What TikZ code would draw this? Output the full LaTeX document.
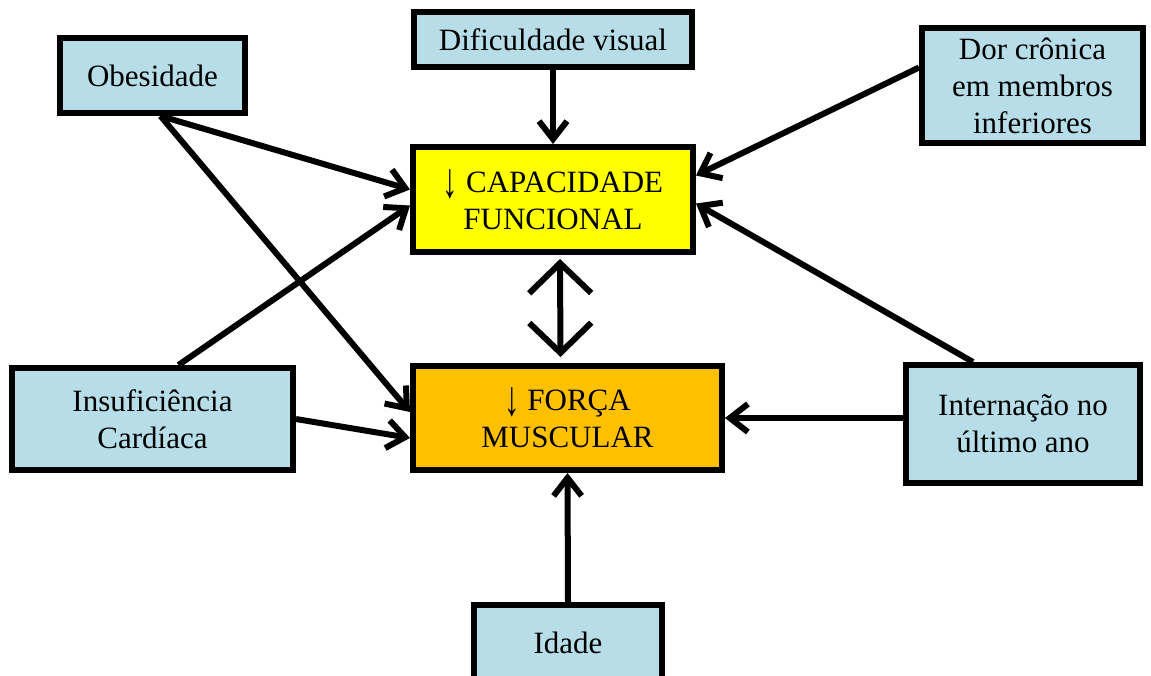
\documentclass[tikz,border=0pt]{standalone}
\usepackage{fontspec}
\setmainfont{Liberation Serif}
\usetikzlibrary{arrows.meta}
\definecolor{fatorazul}{RGB}{183,222,232}
\definecolor{capamarelo}{RGB}{255,255,0}
\definecolor{forcalaranja}{RGB}{255,192,0}
\newcommand{\setabaixo}{\raisebox{-0.35ex}{\scalebox{1}[1.6]{↓}}}
\begin{document}
\begin{tikzpicture}[x=0.5pt,y=-0.5pt,
  caixa/.style={draw=black,line width=3pt,align=center,inner sep=0pt,
    font=\fontsize{15.5}{18.5}\selectfont},
  fator/.style={caixa,fill=fatorazul},
  seta/.style={line width=3pt,-{Straight Barb[length=9pt,width=14pt,line width=3pt]}},
  setadupla/.style={line width=3pt,{Straight Barb[length=15pt,width=31pt,line width=3pt]}-{Straight Barb[length=15pt,width=31pt,line width=3pt]}}]
\useasboundingbox (0,0) rectangle (1151,675);
\clip (0,0) rectangle (1151,675);
% caixas centrais
\node[caixa,fill=capamarelo,minimum width=140pt,minimum height=52.5pt] (cap) at (553,199.5) {\setabaixo\ CAPACIDADE\\FUNCIONAL};
\node[caixa,fill=forcalaranja,minimum width=154.5pt,minimum height=52pt] (forca) at (567.5,418) {\setabaixo\ FORÇA\\MUSCULAR};
% fatores
\node[fator,minimum width=92.5pt,minimum height=37.5pt] (obes) at (152.5,75.5) {Obesidade};
\node[fator,minimum width=139pt,minimum height=27.5pt] (visual) at (553,39.5) {Dificuldade visual};
\node[fator,minimum width=110.5pt,minimum height=57.5pt] (dor) at (1032.5,85.5) {Dor crônica\\em membros\\inferiores};
\node[fator,minimum width=140.5pt,minimum height=51pt] (insuf) at (152.5,419) {Insuficiência\\Cardíaca};
\node[fator,minimum width=117pt,minimum height=59pt] (intern) at (1023,424) {Internação no\\último ano};
\node[fator,minimum width=94pt,minimum height=46pt] (idade) at (568,651) {};
\node[font=\fontsize{15.5}{18.5}\selectfont] (idadetxt) at (568,643) {Idade};
% setas
\draw[seta] (visual.south) -- (cap.north);
\draw[seta] ([yshift=9pt]dor.west) -- ([yshift=12pt]cap.east);
\draw[seta] ([xshift=4pt]obes.south) -- ([yshift=5pt]cap.west);
\draw[seta] ([xshift=4pt]obes.south) -- ([yshift=3pt]forca.west);
\draw[seta] ([xshift=13pt]insuf.north) -- ([yshift=-3pt]cap.west);
\draw[seta] (insuf.east) -- ([yshift=-10pt]forca.west);
\draw[seta] ([xshift=-25pt]intern.north) -- ([yshift=-2pt]cap.east);
\draw[seta] ([yshift=3pt]intern.west) -- (forca.east);
\draw[seta] (idade.north) -- (forca.south);
\draw[setadupla,shorten <=2pt,shorten >=3pt] ([xshift=3.5pt]cap.south) -- ([xshift=-3.5pt]forca.north);
\end{tikzpicture}
\end{document}
